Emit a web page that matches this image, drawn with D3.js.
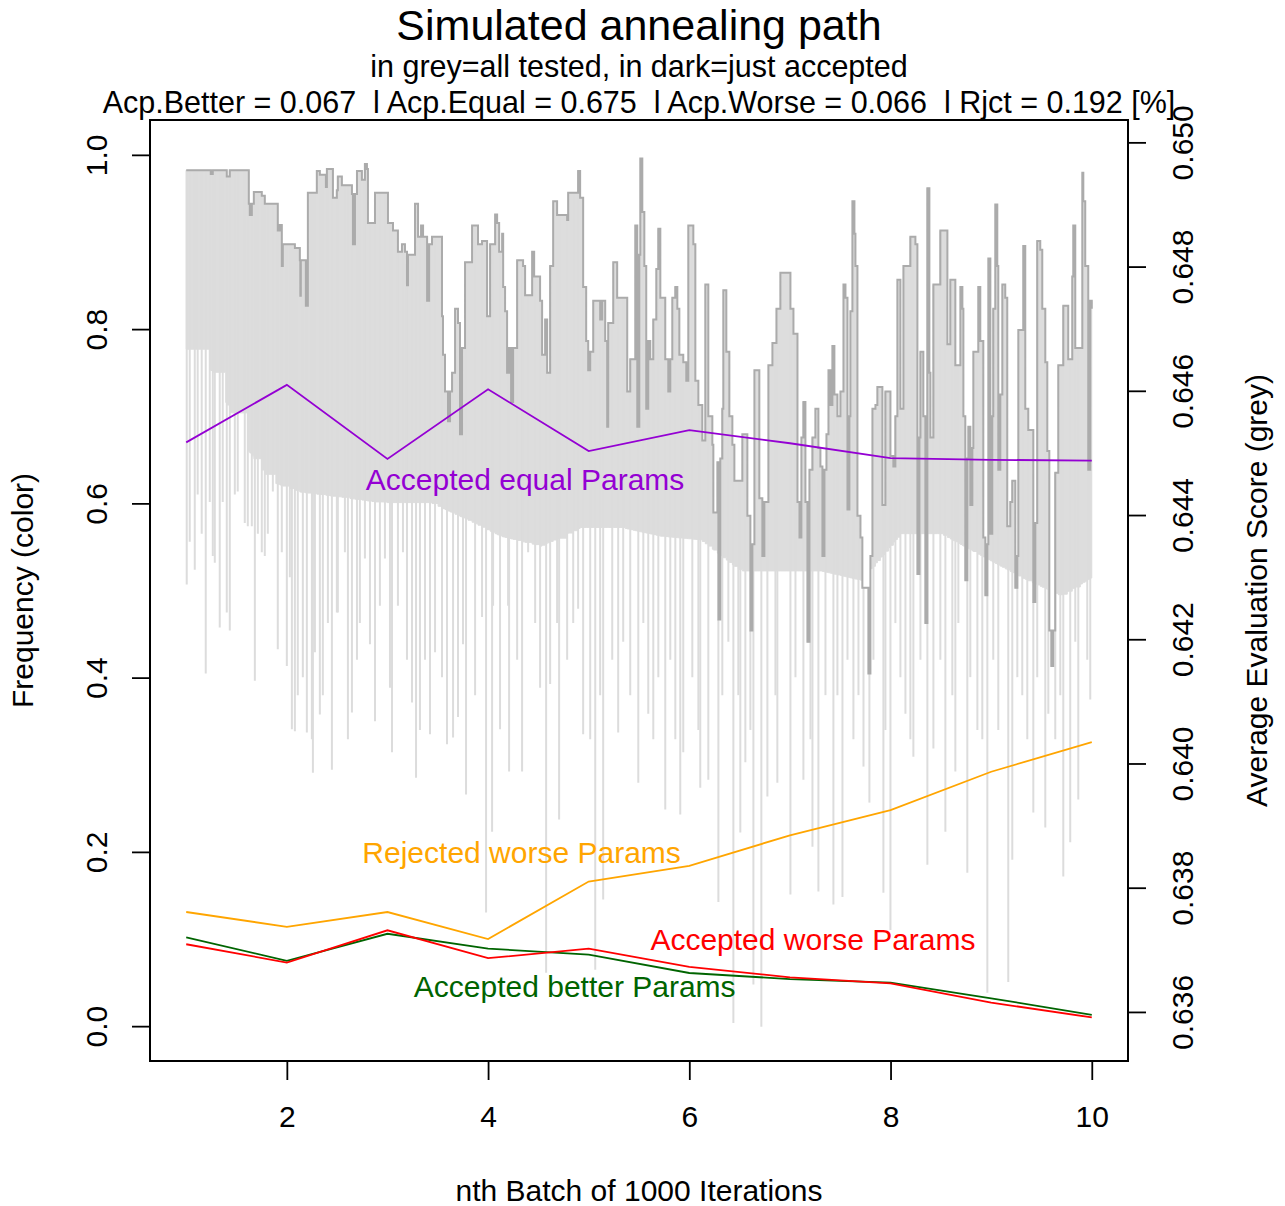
<!DOCTYPE html>
<html>
<head>
<meta charset="utf-8">
<script src="https://cdn.jsdelivr.net/npm/d3@7"></script>
<style>
  html, body { margin: 0; padding: 0; background: #ffffff; }
  svg { display: block; font-family: "Liberation Sans", Arial, Helvetica, sans-serif; }
</style>
</head>
<body>
<svg id="chart" width="1285" height="1206"></svg>
<script>
// ---- move frequencies per batch of 1000 iterations ----
const batches        = [1, 2, 3, 4, 5, 6, 7, 8, 9, 10];
const acceptedBetter = [0.102, 0.075, 0.106, 0.089, 0.082, 0.061, 0.054, 0.050, 0.032, 0.013];
const acceptedEqual  = [0.670, 0.736, 0.651, 0.731, 0.660, 0.684, 0.669, 0.652, 0.650, 0.649];
const acceptedWorse  = [0.094, 0.073, 0.110, 0.078, 0.089, 0.068, 0.056, 0.049, 0.027, 0.010];
const rejectedWorse  = [0.131, 0.114, 0.131, 0.100, 0.166, 0.184, 0.219, 0.248, 0.292, 0.326];

// ---- tick values ----
const batchTicks = [2, 4, 6, 8, 10];
const freqTicks  = [0.0, 0.2, 0.4, 0.6, 0.8, 1.0];
const scoreTicks = [0.636, 0.638, 0.640, 0.642, 0.644, 0.646, 0.648, 0.650];

// ---- evaluation score of the accepted state: [iteration, score] ----
const acceptedPath = [
  [1000,0.64955],[1234,0.64955],[1244,0.64949],[1264,0.64955],[1393,0.64955],[1403,0.64945],[1433,0.64955],
  [1612,0.64955],[1622,0.64901],[1632,0.64883],[1652,0.64901],[1672,0.64920],[1751,0.64914],[1781,0.64901],
  [1891,0.64901],[1910,0.64858],[1930,0.64867],[1950,0.64801],[1960,0.64836],[2030,0.64836],[2080,0.64830],
  [2129,0.64810],[2134,0.64753],[2139,0.64810],[2179,0.64810],[2189,0.64737],[2209,0.64919],[2259,0.64919],
  [2298,0.64954],[2328,0.64948],[2388,0.64928],[2398,0.64957],[2428,0.64957],[2458,0.64911],[2497,0.64923],
  [2507,0.64945],[2547,0.64931],[2627,0.64931],[2647,0.64917],[2657,0.64836],[2677,0.64917],[2697,0.64954],
  [2746,0.64940],[2776,0.64965],[2796,0.64957],[2806,0.64870],[2846,0.64870],[2876,0.64919],[2995,0.64919],
  [3005,0.64870],[3055,0.64858],[3104,0.64824],[3144,0.64836],[3174,0.64824],[3194,0.64770],[3204,0.64819],
  [3254,0.64819],[3274,0.64901],[3304,0.64848],[3334,0.64866],[3354,0.64848],[3394,0.64745],[3414,0.64836],
  [3443,0.64848],[3503,0.64848],[3542,0.64720],[3552,0.64658],[3572,0.64599],[3602,0.64551],[3622,0.64599],
  [3642,0.64629],[3672,0.64732],[3701,0.64709],[3721,0.64530],[3741,0.64669],[3771,0.64807],[3801,0.64807],
  [3841,0.64866],[3871,0.64866],[3900,0.64836],[3940,0.64841],[3990,0.64720],[4020,0.64836],[4040,0.64836],
  [4070,0.64884],[4090,0.64870],[4110,0.64824],[4140,0.64853],[4150,0.64767],[4169,0.64728],[4189,0.64629],
  [4209,0.64669],[4229,0.64582],[4249,0.64669],[4289,0.64810],[4348,0.64801],[4368,0.64754],[4438,0.64824],
  [4458,0.64784],[4517,0.64745],[4537,0.64658],[4567,0.64715],[4587,0.64629],[4617,0.64801],[4647,0.64905],
  [4686,0.64883],[4786,0.64875],[4796,0.64919],[4846,0.64919],[4895,0.64954],[4915,0.64911],[4945,0.64767],
  [4975,0.64680],[4995,0.64633],[5015,0.64663],[5045,0.64745],[5114,0.64715],[5134,0.64745],[5164,0.64680],
  [5184,0.64542],[5194,0.64709],[5234,0.64709],[5244,0.64807],[5283,0.64750],[5363,0.64750],[5383,0.64599],
  [5413,0.64651],[5443,0.64651],[5463,0.64866],[5483,0.64542],[5503,0.64819],[5513,0.64974],[5533,0.64888],
  [5553,0.64801],[5572,0.64571],[5592,0.64680],[5612,0.64651],[5642,0.64715],[5672,0.64796],[5692,0.64861],
  [5712,0.64750],[5761,0.64651],[5791,0.64599],[5811,0.64651],[5831,0.64750],[5861,0.64767],[5881,0.64732],
  [5901,0.64658],[5940,0.64646],[5970,0.64616],[5990,0.64866],[6040,0.64836],[6060,0.64616],[6090,0.64577],
  [6129,0.64520],[6159,0.64771],[6189,0.64559],[6229,0.64513],[6239,0.64404],[6279,0.64485],[6289,0.64232],
  [6308,0.64491],[6328,0.64571],[6338,0.64762],[6368,0.64663],[6398,0.64559],[6428,0.64513],[6448,0.64455],
  [6487,0.64455],[6527,0.64530],[6557,0.64530],[6577,0.64399],[6607,0.64214],[6627,0.64353],[6647,0.64633],
  [6676,0.64633],[6696,0.64427],[6726,0.64334],[6746,0.64421],[6786,0.64641],[6826,0.64677],[6866,0.64732],
  [6905,0.64790],[6965,0.64790],[7005,0.64732],[7035,0.64692],[7075,0.64421],[7095,0.64364],[7114,0.64525],
  [7134,0.64582],[7154,0.64421],[7174,0.64196],[7194,0.64473],[7224,0.64525],[7253,0.64571],[7283,0.64508],
  [7303,0.64478],[7323,0.64334],[7343,0.64473],[7363,0.64530],[7383,0.64633],[7403,0.64577],[7422,0.64672],
  [7442,0.64594],[7472,0.64559],[7502,0.64599],[7532,0.64771],[7552,0.64750],[7572,0.64409],[7591,0.64559],
  [7601,0.64728],[7621,0.64905],[7641,0.64853],[7651,0.64801],[7671,0.64399],[7701,0.64364],[7720,0.64283],
  [7750,0.64283],[7780,0.64145],[7800,0.64334],[7820,0.64571],[7850,0.64577],[7869,0.64606],[7899,0.64606],
  [7919,0.64416],[7949,0.64599],[7979,0.64599],[7999,0.64495],[8028,0.64478],[8048,0.64559],[8068,0.64779],
  [8098,0.64571],[8128,0.64801],[8168,0.64801],[8197,0.64848],[8247,0.64836],[8267,0.64305],[8287,0.64525],
  [8297,0.64663],[8326,0.64559],[8346,0.64226],[8366,0.64926],[8386,0.64629],[8396,0.64525],[8426,0.64771],
  [8465,0.64771],[8495,0.64858],[8525,0.64858],[8565,0.64675],[8594,0.64779],[8624,0.64779],[8644,0.64641],
  [8674,0.64641],[8694,0.64767],[8714,0.64732],[8724,0.64559],[8743,0.64295],[8763,0.64491],[8773,0.64542],
  [8793,0.64416],[8813,0.64508],[8823,0.64663],[8863,0.64663],[8872,0.64767],[8892,0.64680],[8912,0.64680],
  [8922,0.64364],[8942,0.64271],[8962,0.64353],[8972,0.64813],[8992,0.64370],[9011,0.64559],[9021,0.64732],
  [9041,0.64900],[9061,0.64801],[9071,0.64473],[9091,0.64594],[9111,0.64771],[9140,0.64750],[9160,0.64382],
  [9190,0.64421],[9210,0.64455],[9240,0.64283],[9260,0.64334],[9270,0.64698],[9309,0.64698],[9319,0.64833],
  [9339,0.64571],[9369,0.64537],[9409,0.64537],[9419,0.64260],[9439,0.64387],[9458,0.64841],[9488,0.64827],
  [9508,0.64732],[9538,0.64646],[9558,0.64503],[9578,0.64214],[9598,0.64157],[9617,0.64214],[9637,0.64468],
  [9667,0.64641],[9707,0.64641],[9717,0.64737],[9757,0.64737],[9766,0.64651],[9806,0.64784],[9816,0.64866],
  [9836,0.64669],[9886,0.64669],[9906,0.64951],[9916,0.64905],[9935,0.64801],[9955,0.64801],[9965,0.64473],
  [9985,0.64745],[10000,0.64732]
];

// ---- lower edge of the dense band of tested scores: [iteration, score] ----
const testedFloor = [
  [1000,0.64667],[1284,0.64627],[1532,0.64523],[1831,0.64454],[2129,0.64437],[2527,0.64429],[2925,0.64420],
  [3423,0.64420],[3821,0.64390],[4119,0.64366],[4517,0.64350],[4915,0.64380],[5313,0.64380],[5711,0.64366],
  [6109,0.64360],[6507,0.64310],[6905,0.64310],[7303,0.64310],[7701,0.64295],[8098,0.64370],[8496,0.64370],
  [8894,0.64335],[9292,0.64300],[9690,0.64270],[10000,0.64300]
];

// ---- individual low scores among the tested candidates: [iteration, score] ----
const testedDips = [
  [1005,0.64288],[1035,0.64357],[1085,0.64312],[1114,0.64433],[1154,0.64370],[1194,0.64145],[1234,0.64421],
  [1264,0.64334],[1284,0.64323],[1333,0.64219],[1363,0.64421],[1403,0.64243],[1433,0.64214],[1483,0.64433],
  [1512,0.64438],[1582,0.64387],[1612,0.64382],[1652,0.64382],[1682,0.64133],[1712,0.64370],[1751,0.64340],
  [1781,0.64334],[1811,0.64370],[1861,0.64438],[1910,0.64184],[1950,0.64340],[2000,0.64157],[2030,0.64300],
  [2050,0.64055],[2080,0.64052],[2109,0.64110],[2159,0.64139],[2199,0.64050],[2249,0.64039],[2259,0.63985],
  [2279,0.64179],[2328,0.64079],[2358,0.64110],[2408,0.64226],[2448,0.63990],[2497,0.64243],
  [2507,0.64243],[2577,0.64340],[2607,0.64039],[2647,0.64082],[2697,0.64167],[2726,0.64226],[2776,0.64330],
  [2826,0.64192],[2876,0.64068],[2925,0.64254],[2975,0.64330],[3025,0.64122],[3045,0.64018],[3104,0.64254],
  [3154,0.64340],[3194,0.64167],[3244,0.64098],[3284,0.63977],[3323,0.64054],[3373,0.64167],[3423,0.64047],
  [3473,0.64179],[3542,0.64139],[3592,0.64031],[3652,0.64042],[3701,0.64075],[3751,0.64192],[3781,0.63950],
  [3871,0.64110],[3940,0.64236],[3980,0.63760],[4040,0.63890],
  [4050,0.64254],[4119,0.64055],[4199,0.64254],[4209,0.63987],[4289,0.64167],[4338,0.63987],[4398,0.64340],
  [4468,0.64226],[4517,0.64122],[4577,0.63663],[4617,0.64128],[4686,0.64226],[4706,0.63910],[4786,0.64167],
  [4846,0.64226],[4895,0.64249],[4945,0.64047],[5015,0.64039],[5065,0.63668],[5114,0.64110],[5144,0.63781],
  [5234,0.64167],[5293,0.64050],[5343,0.64196],[5413,0.64110],[5493,0.63969],[5543,0.64226],[5592,0.64080],
  [5642,0.64039],[5692,0.64139],[5761,0.63926],[5811,0.64167],[5861,0.64039],[5910,0.63918],[5940,0.64018],
  [6030,0.64139],[6090,0.64054],[6109,0.63961],[6189,0.63974],[6289,0.63777],[6328,0.64110],[6388,0.64196],
  [6438,0.63582],[6487,0.64110],[6507,0.63889],[6557,0.64002],[6607,0.64054],[6637,0.63644],[6716,0.63576],
  [6776,0.63947],[6856,0.64110],[6875,0.63969],[7005,0.63789],[7055,0.64139],[7134,0.63974],
  [7204,0.64039],[7224,0.63866],[7283,0.63794],[7353,0.64110],[7432,0.63773],[7472,0.64110],[7522,0.63785],
  [7572,0.64167],[7631,0.64039],[7681,0.64110],[7731,0.63995],[7790,0.63937],[7830,0.64167],[7929,0.63792],
  [7949,0.64054],[7999,0.63732],[8048,0.64226],[8098,0.64139],[8148,0.64080],[8197,0.64039],[8227,0.64011],
  [8297,0.64167],[8366,0.63837],[8426,0.64024],[8495,0.64167],[8545,0.63890],[8614,0.64110],[8644,0.63987],
  [8674,0.64226],[8763,0.63824],[8793,0.64139],[8863,0.64054],[8912,0.64039],[8962,0.63631],[9021,0.64167],
  [9071,0.64054],[9170,0.63648],[9210,0.63845],[9260,0.64139],[9309,0.64110],[9359,0.64039],[9419,0.63921],
  [9458,0.64139],[9538,0.63897],[9568,0.64080],[9637,0.64039],[9687,0.64110],[9717,0.63818],[9786,0.63873],
  [9836,0.64196],[9866,0.63942],[9955,0.64167],[9985,0.64103]
];

// ---- frequency series and their in-plot labels ----
const freqSeries = [
  { name: "Accepted equal Params",  values: acceptedEqual,  color: "#9400D3", labelAt: [4.368, 0.627] },
  { name: "Rejected worse Params",  values: rejectedWorse,  color: "#FFA500", labelAt: [4.333, 0.199] },
  { name: "Accepted better Params", values: acceptedBetter, color: "#006400", labelAt: [4.861, 0.0454] },
  { name: "Accepted worse Params",  values: acceptedWorse,  color: "#FF0000", labelAt: [7.229, 0.0994] }
];

const titleText    = "Simulated annealing path";
const subtitleText = "in grey=all tested, in dark=just accepted";
const summaryText  = "Acp.Better = 0.067  l Acp.Equal = 0.675  l Acp.Worse = 0.066  l Rjct = 0.192 [%]";

// ---- layout ----
const plot = { left: 150, right: 1128, top: 120, bottom: 1061 };
const svg = d3.select("#chart");

const x  = d3.scaleLinear().domain([0.64, 10.36]).range([plot.left, plot.right]);
const yL = d3.scaleLinear().domain([-0.04, 1.04]).range([plot.bottom, plot.top]);
const yR = d3.scaleLinear().domain([0.63521, 0.65036]).range([plot.bottom, plot.top]);
const xi = it => x(it / 1000);

// ---- tested scores: dense band ----
const floorAt = d3.scaleLinear()
  .domain(testedFloor.map(d => d[0]))
  .range(testedFloor.map(d => d[1]));

const band = d3.area()
  .x(d => xi(d[0]))
  .y1(d => yR(d[1]))
  .y0(d => yR(Math.min(d[1], floorAt(d[0]))))
  .curve(d3.curveStepAfter);

svg.append("path")
  .datum(acceptedPath)
  .attr("d", band)
  .attr("fill", "#dddddd")
  .attr("stroke", "#dddddd")
  .attr("stroke-width", 1);

// ---- tested scores: individual low candidates ----
const bisectIter = d3.bisector(d => d[0]).right;
const currentAt = it => {
  const i = Math.max(0, bisectIter(acceptedPath, it) - 1);
  return acceptedPath[i][1];
};

svg.append("g")
  .selectAll("line")
  .data(testedDips)
  .join("line")
  .attr("x1", d => xi(d[0]))
  .attr("x2", d => xi(d[0]))
  .attr("y1", d => yR(Math.max(currentAt(d[0]), d[1])))
  .attr("y2", d => yR(d[1]))
  .attr("stroke", "#dcdcdc")
  .attr("stroke-width", 2);

// ---- accepted path ----
svg.append("path")
  .datum(acceptedPath)
  .attr("d", d3.line().x(d => xi(d[0])).y(d => yR(d[1])).curve(d3.curveStepAfter))
  .attr("fill", "none")
  .attr("stroke", "#ababab")
  .attr("stroke-width", 2)
  .attr("stroke-linejoin", "miter");

// ---- frequency lines ----
const freqLine = d3.line().x((d, i) => x(batches[i])).y(d => yL(d));
freqSeries.forEach(s => {
  svg.append("path")
    .datum(s.values)
    .attr("d", freqLine)
    .attr("fill", "none")
    .attr("stroke", s.color)
    .attr("stroke-width", 1.8);
});
freqSeries.forEach(s => {
  svg.append("text")
    .attr("x", x(s.labelAt[0]))
    .attr("y", yL(s.labelAt[1]))
    .attr("dy", "0.35em")
    .attr("text-anchor", "middle")
    .attr("font-size", 30)
    .attr("fill", s.color)
    .text(s.name);
});

// ---- frame ----
svg.append("rect")
  .attr("x", plot.left).attr("y", plot.top)
  .attr("width", plot.right - plot.left)
  .attr("height", plot.bottom - plot.top)
  .attr("fill", "none")
  .attr("stroke", "#000")
  .attr("stroke-width", 2);

// ---- axes ----
function styleAxis(g) {
  g.select(".domain").remove();
  g.selectAll(".tick line").attr("stroke", "#000").attr("stroke-width", 1.8);
  g.selectAll(".tick text").attr("fill", "#000").attr("font-size", 30)
    .attr("font-family", '"Liberation Sans", Arial, Helvetica, sans-serif');
}

const gx = svg.append("g")
  .attr("transform", `translate(0,${plot.bottom})`)
  .call(d3.axisBottom(x).tickValues(batchTicks).tickFormat(d3.format("d")).tickSize(19));
styleAxis(gx);
gx.selectAll(".tick text").attr("y", 66).attr("dy", 0);

const gl = svg.append("g")
  .attr("transform", `translate(${plot.left},0)`)
  .call(d3.axisLeft(yL).tickValues(freqTicks).tickFormat(d3.format(".1f")).tickSize(18));
styleAxis(gl);
gl.selectAll(".tick text")
  .attr("transform", "rotate(-90)")
  .attr("x", 0).attr("y", -43).attr("dy", 0)
  .attr("text-anchor", "middle");

const gr = svg.append("g")
  .attr("transform", `translate(${plot.right},0)`)
  .call(d3.axisRight(yR).tickValues(scoreTicks).tickFormat(d3.format(".3f")).tickSize(18));
styleAxis(gr);
gr.selectAll(".tick text")
  .attr("transform", "rotate(-90)")
  .attr("x", 0).attr("y", 65).attr("dy", 0)
  .attr("text-anchor", "middle");

// ---- titles ----
const cx = (plot.left + plot.right) / 2;
const cy = (plot.top + plot.bottom) / 2;

svg.append("text").attr("x", cx).attr("y", 40).attr("text-anchor", "middle")
  .attr("font-size", 43).attr("fill", "#000").text(titleText);
svg.append("text").attr("x", cx).attr("y", 77).attr("text-anchor", "middle")
  .attr("font-size", 30.5).attr("fill", "#000").text(subtitleText);
svg.append("text").attr("x", cx).attr("y", 113).attr("text-anchor", "middle")
  .attr("font-size", 30.5).attr("fill", "#000")
  .attr("xml:space", "preserve").style("white-space", "pre")
  .text(summaryText);

svg.append("text").attr("x", cx).attr("y", 1201).attr("text-anchor", "middle")
  .attr("font-size", 30).attr("fill", "#000").text("nth Batch of 1000 Iterations");

svg.append("text")
  .attr("transform", `translate(33,${cy}) rotate(-90)`)
  .attr("text-anchor", "middle").attr("font-size", 30).attr("fill", "#000")
  .text("Frequency (color)");

svg.append("text")
  .attr("transform", `translate(1267,${cy}) rotate(-90)`)
  .attr("text-anchor", "middle").attr("font-size", 30).attr("fill", "#000")
  .text("Average Evaluation Score (grey)");
</script>
</body>
</html>
